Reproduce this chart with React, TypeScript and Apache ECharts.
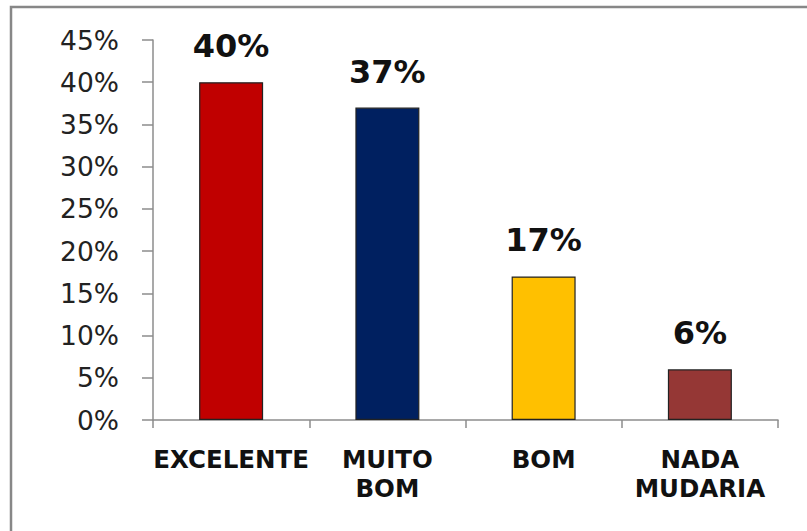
import React, { useEffect, useRef } from "react";
import * as echarts from "echarts";

const categories = ["EXCELENTE", "MUITO\nBOM", "BOM", "NADA\nMUDARIA"];
const values = [40, 37, 17, 6];
const barColors = ["#C00000", "#002060", "#FFC000", "#953735"];
const yTicks = { min: 0, max: 45, interval: 5 };

export default function App() {
  const ref = useRef<HTMLDivElement>(null);
  useEffect(() => {
    if (!ref.current) return;
    const chart = echarts.init(ref.current, undefined, { renderer: "svg" });
    chart.setOption({
      animation: false,
      backgroundColor: "#ffffff",
      graphic: [
        {
          type: "rect",
          shape: { x: 11, y: 7, width: 830, height: 560 },
          style: { fill: "none", stroke: "#878787", lineWidth: 2.5 },
          silent: true,
        },
      ],
      grid: { left: 153, right: 29, top: 40, bottom: 111 },
      xAxis: {
        type: "category",
        data: categories,
        axisLine: { lineStyle: { color: "#8c8c8c", width: 1.5 } },
        axisTick: { show: true, length: 8, lineStyle: { color: "#8c8c8c", width: 1.5 } },
        axisLabel: {
          fontFamily: "DejaVu Sans",
          fontWeight: "bold",
          fontSize: 24.5,
          color: "#111",
          lineHeight: 29,
          margin: 25,
          interval: 0,
        },
      },
      yAxis: {
        type: "value",
        min: yTicks.min,
        max: yTicks.max,
        interval: yTicks.interval,
        axisLine: { show: true, lineStyle: { color: "#8c8c8c", width: 1.5 } },
        axisTick: { show: true, length: 11, lineStyle: { color: "#8c8c8c", width: 1.5 } },
        splitLine: { show: false },
        axisLabel: {
          fontFamily: "DejaVu Sans",
          fontSize: 26.5,
          color: "#222",
          margin: 34,
          formatter: (v: number) => `${v}%`,
        },
      },
      series: [
        {
          type: "bar",
          barWidth: 64,
          data: values.map((v, i) => ({
            value: v,
            itemStyle: { color: barColors[i], borderColor: "#222", borderWidth: 1.2 },
          })),
          label: {
            show: true,
            position: "top",
            distance: 20,
            fontFamily: "DejaVu Sans",
            fontWeight: "bold",
            fontSize: 32,
            color: "#111",
            formatter: (p: any) => `${p.value}%`,
          },
        },
      ],
    });
    return () => chart.dispose();
  }, []);
  return (
    <div
      ref={ref}
      style={{ position: "absolute", left: 0, top: 0, width: 807, height: 531 }}
    />
  );
}
